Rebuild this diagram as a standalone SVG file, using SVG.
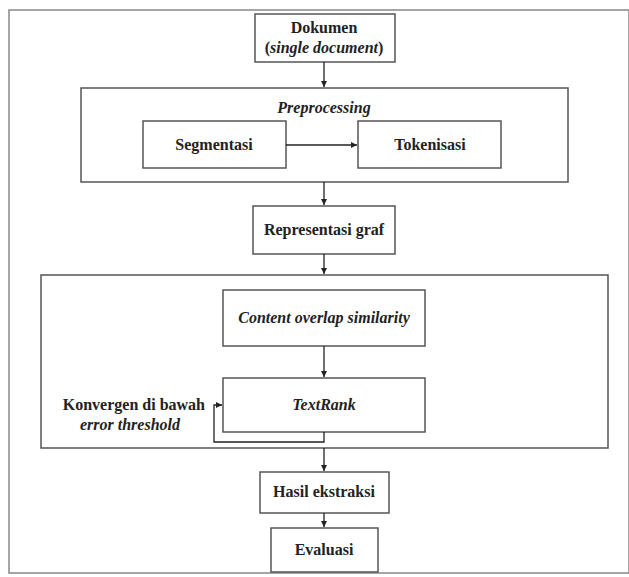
<svg xmlns="http://www.w3.org/2000/svg" width="629" height="577" viewBox="0 0 629 577">
<style>
.b{fill:#fff;stroke:#555;stroke-width:1.5}
.t{font-family:'Liberation Serif','Times New Roman','DejaVu Serif',serif;font-weight:bold;font-size:16px;fill:#222;text-anchor:middle}
.i{font-style:italic}
.c{fill:none;stroke:#222;stroke-width:1.3}
</style>
<defs>
<marker id="a" markerWidth="8" markerHeight="8" refX="6" refY="3" orient="auto" markerUnits="userSpaceOnUse">
<path d="M0,0 L6,3 L0,6 Z" fill="#222"/>
</marker>
</defs>
<rect x="0" y="0" width="629" height="577" fill="#fff"/>
<rect x="9" y="10" width="620" height="563" fill="none" stroke="#888" stroke-width="1.5"/>
<g id="preprocessing"><rect class="b" x="81" y="88" width="487" height="94"/><text class="t i" x="324" y="113">Preprocessing</text></g>
<g id="group2"><rect class="b" x="41" y="275" width="567" height="173"/></g>
<g id="dokumen"><rect class="b" x="255" y="14" width="140" height="48"/><text class="t" x="324" y="33">Dokumen</text><text class="t" x="324" y="53">(<tspan class="i">single document</tspan>)</text></g>
<g id="segmentasi"><rect class="b" x="143" y="121" width="143" height="47"/><text class="t" x="214" y="150">Segmentasi</text></g>
<g id="tokenisasi"><rect class="b" x="358" y="121" width="143" height="47"/><text class="t" x="430" y="150">Tokenisasi</text></g>
<g id="representasi"><rect class="b" x="253" y="206" width="142" height="48"/><text class="t" x="324" y="235">Representasi graf</text></g>
<g id="content"><rect class="b" x="223" y="290" width="202" height="56"/><text class="t i" x="324" y="323">Content overlap similarity</text></g>
<g id="textrank"><rect class="b" x="223" y="378" width="202" height="54"/><text class="t i" x="324" y="410">TextRank</text></g>
<g id="konvergen"><text class="t" x="205" y="410" style="text-anchor:end">Konvergen di bawah</text><text class="t i" x="130" y="430">error threshold</text></g>
<g id="hasil"><rect class="b" x="260" y="472" width="129" height="41"/><text class="t" x="324" y="497">Hasil ekstraksi</text></g>
<g id="evaluasi"><rect class="b" x="271" y="528" width="107" height="44"/><text class="t" x="324" y="555">Evaluasi</text></g>
<g id="connectors">
<line class="c" x1="324" y1="62" x2="324" y2="87" marker-end="url(#a)"/>
<line class="c" x1="286" y1="145" x2="357" y2="145" marker-end="url(#a)"/>
<line class="c" x1="324" y1="182" x2="324" y2="205" marker-end="url(#a)"/>
<line class="c" x1="324" y1="254" x2="324" y2="274" marker-end="url(#a)"/>
<line class="c" x1="324" y1="346" x2="324" y2="377" marker-end="url(#a)"/>
<polyline class="c" points="324,432 324,442 214,442 214,405 222,405" marker-end="url(#a)"/>
<line class="c" x1="324" y1="448" x2="324" y2="471" marker-end="url(#a)"/>
<line class="c" x1="324" y1="513" x2="324" y2="527" marker-end="url(#a)"/>
</g>
</svg>
